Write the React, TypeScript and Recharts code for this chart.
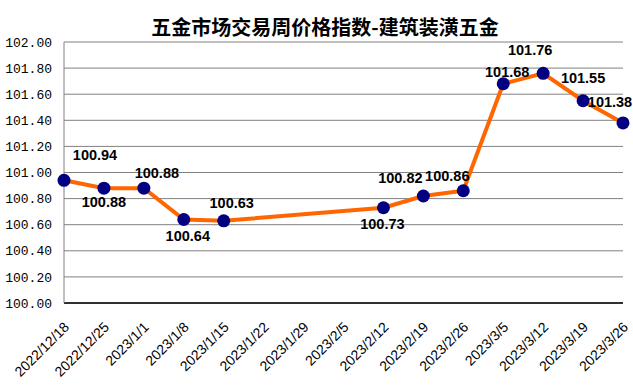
import React from 'react';
import { LineChart, Line, XAxis, YAxis, CartesianGrid, LabelList } from 'recharts';

const title = '五金市场交易周价格指数-建筑装潢五金';

const dates = [
  '2022/12/18', '2022/12/25', '2023/1/1', '2023/1/8', '2023/1/15', '2023/1/22', '2023/1/29',
  '2023/2/5', '2023/2/12', '2023/2/19', '2023/2/26', '2023/3/5', '2023/3/12', '2023/3/19', '2023/3/26',
];

const priceIndex: (number | null)[] = [
  100.94, 100.88, 100.88, 100.64, 100.63, null, null,
  null, 100.73, 100.82, 100.86, 101.68, 101.76, 101.55, 101.38,
];

const yTicks = [100.0, 100.2, 100.4, 100.6, 100.8, 101.0, 101.2, 101.4, 101.6, 101.8, 102.0];

// where each value label sits relative to its point (dx, dy)
const labelOffsets: [number, number][] = [
  [31, -25], [0, 14], [13, -15], [4, 17], [8, -18], [0, 0], [0, 0],
  [0, 0], [-1, 16], [-23, -18], [-16, -15], [4, -12], [-13, -23], [0, -23], [-13, -21],
];

const chartData = dates.map((d, i) => ({ date: d, value: priceIndex[i] }));

const renderValueLabel = (props: any) => {
  const { x, y, value, index } = props;
  if (value === null || value === undefined) return null;
  const [dx, dy] = labelOffsets[index] || [0, -15];
  return (
    <text
      x={x + dx}
      y={y + dy}
      textAnchor="middle"
      dominantBaseline="central"
      fontFamily="'Liberation Sans', Arial, sans-serif"
      fontSize={14.5}
      fontWeight="bold"
      fill="#000"
    >
      {Number(value).toFixed(2)}
    </text>
  );
};

const DateTick = (props: any) => {
  const { x, y, payload } = props;
  return (
    <g transform={`translate(${x + 6},${y + 25})`}>
      <text
        x={0}
        y={0}
        textAnchor="end"
        transform="rotate(-45)"
        fontFamily="'Liberation Sans', Arial, sans-serif"
        fontSize={14}
        fill="#000"
      >
        {payload.value}
      </text>
    </g>
  );
};

const App: React.FC = () => {
  return (
    <div style={{ position: 'absolute', left: 0, top: 0, width: 633, height: 386, background: '#fff' }}>
      <div
        style={{
          position: 'absolute',
          left: 0,
          top: 16,
          width: 650,
          textAlign: 'center',
          fontFamily: "'Noto Sans CJK SC', sans-serif",
          fontWeight: 'bold',
          fontSize: 20,
          lineHeight: '22px',
          color: '#000',
        }}
      >
        {title}
      </div>
      <LineChart
        width={633}
        height={386}
        data={chartData}
        margin={{ top: 42, right: 10, left: 0, bottom: 0 }}
      >
        <CartesianGrid vertical={false} stroke="#808080" strokeWidth={1} />
        <XAxis
          dataKey="date"
          type="category"
          scale="point"
          interval={0}
          height={83}
          tickLine={false}
          tickSize={0}
          tickMargin={0}
          axisLine={{ stroke: '#000', strokeWidth: 1.5 }}
          tick={<DateTick />}
        />
        <YAxis
          domain={[100, 102]}
          ticks={yTicks}
          width={64}
          tickLine={false}
          tickSize={0}
          tickMargin={12}
          axisLine={{ stroke: '#808080' }}
          tickFormatter={(v: number) => v.toFixed(2)}
          tick={{ fontFamily: "'Liberation Mono', monospace", fontSize: 13, fill: '#000' }}
        />
        <Line
          type="linear"
          dataKey="value"
          stroke="#FF6600"
          strokeWidth={4}
          connectNulls
          dot={{ r: 6.5, fill: '#000080', stroke: '#000080', strokeWidth: 0 }}
          activeDot={false}
          isAnimationActive={false}
        >
          <LabelList dataKey="value" content={renderValueLabel} />
        </Line>
      </LineChart>
    </div>
  );
};

export default App;
